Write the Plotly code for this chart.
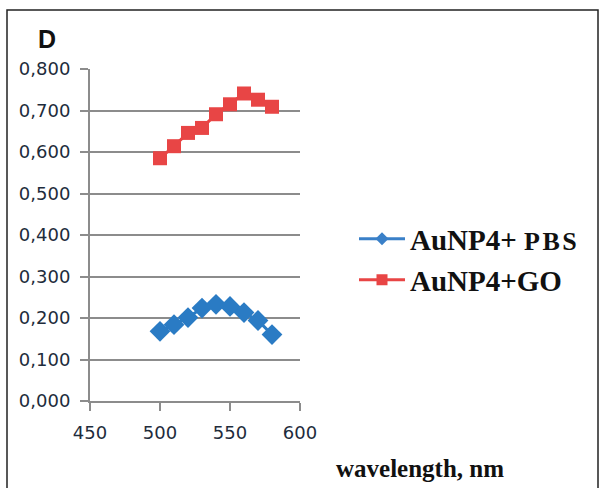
import plotly.graph_objects as go

wavelength = [500, 510, 520, 530, 540, 550, 560, 570, 580]
pbs = [0.168, 0.184, 0.201, 0.224, 0.233, 0.228, 0.213, 0.194, 0.160]
go_vals = [0.585, 0.614, 0.646, 0.658, 0.691, 0.715, 0.741, 0.726, 0.709]
yticks = [0.0, 0.1, 0.2, 0.3, 0.4, 0.5, 0.6, 0.7, 0.8]
ytick_text = ["0,000", "0,100", "0,200", "0,300", "0,400", "0,500", "0,600", "0,700", "0,800"]
xticks = [450, 500, 550, 600]
names = ["<b>AuNP4+ <span style='font-size:26px;letter-spacing:2.5px'>PBS</span></b>", "<b>AuNP4+GO</b>"]

W, H = 601, 488
L, R, T, B = 90, 301, 69, 87
pw, ph = W - L - R, H - T - B

BLUE = "#2a7bc4"
RED = "#e84545"


def px(x):
    return (x - L) / pw


def py(y):
    return (H - B - y) / ph


fig = go.Figure()
fig.add_trace(go.Scatter(
    x=wavelength, y=pbs, mode="lines+markers", showlegend=False,
    line=dict(color=BLUE, width=3),
    marker=dict(symbol="diamond", size=16, color=BLUE),
))
fig.add_trace(go.Scatter(
    x=wavelength, y=go_vals, mode="lines+markers", showlegend=False,
    line=dict(color=RED, width=3),
    marker=dict(symbol="square", size=14, color=RED),
))
# legend entries
fig.add_trace(go.Scatter(
    x=[None], y=[None], mode="lines+markers", name=names[0], legend="legend",
    line=dict(color="#3a80c8", width=3),
    marker=dict(symbol="diamond", size=10, color="#3a80c8"),
))
fig.add_trace(go.Scatter(
    x=[None], y=[None], mode="lines+markers", name=names[1], legend="legend2",
    line=dict(color=RED, width=3),
    marker=dict(symbol="square", size=11, color=RED),
))

legend_font = dict(family="Liberation Serif", size=29, color="#111111")
fig.update_layout(
    width=W, height=H,
    margin=dict(l=L, r=R, t=T, b=B),
    paper_bgcolor="white", plot_bgcolor="white",
    showlegend=True,
    legend=dict(
        x=px(354), y=py(239), xanchor="left", yanchor="middle",
        font=legend_font, bgcolor="rgba(0,0,0,0)", itemwidth=46,
    ),
    legend2=dict(
        x=px(354), y=py(280), xanchor="left", yanchor="middle",
        font=legend_font, bgcolor="rgba(0,0,0,0)", itemwidth=46,
    ),
    xaxis=dict(
        range=[450, 600], tickvals=xticks, ticktext=[str(v) for v in xticks],
        showgrid=False, showline=True, linecolor="#8c8c8c", linewidth=2,
        ticks="outside", ticklen=8, tickwidth=2, tickcolor="#8c8c8c",
        ticklabelstandoff=6,
        tickfont=dict(family="DejaVu Sans", size=18, color="#1e2c3c"),
        zeroline=False, fixedrange=True,
    ),
    yaxis=dict(
        range=[0, 0.8], tickvals=yticks, ticktext=ytick_text,
        showgrid=True, gridcolor="#8c8c8c", gridwidth=2,
        showline=True, linecolor="#8c8c8c", linewidth=2,
        ticks="outside", ticklen=8, tickwidth=2, tickcolor="#8c8c8c",
        ticklabelstandoff=6,
        tickfont=dict(family="DejaVu Sans", size=18, color="#1e2c3c"),
        zeroline=False, fixedrange=True,
    ),
    annotations=[
        dict(text="<b>D</b>", x=px(47), y=py(39), xref="paper", yref="paper",
             showarrow=False, xanchor="center", yanchor="middle",
             font=dict(family="Liberation Sans", size=25, color="#111111")),
        dict(text="<b>wavelength, nm</b>", x=px(334), y=py(468), xref="paper", yref="paper",
             showarrow=False, xanchor="left", yanchor="middle",
             font=dict(family="Liberation Serif", size=25, color="#111111")),
    ],
    shapes=[
        dict(type="rect", xref="paper", yref="paper",
             x0=px(7), x1=px(598), y0=py(495), y1=py(10),
             line=dict(color="#222222", width=1.5), fillcolor="rgba(0,0,0,0)", layer="below"),
    ],
)

fig.write_html("out.html", config={"displayModeBar": False},
               post_script="document.body.style.margin='0';")
